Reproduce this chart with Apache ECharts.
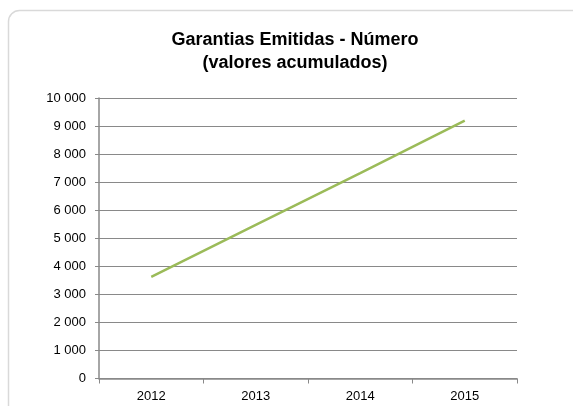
<!DOCTYPE html>
<html>
<head>
<meta charset="utf-8">
<script src="https://cdn.jsdelivr.net/npm/echarts@6/dist/echarts.min.js"></script>
<style>
  html, body { margin: 0; padding: 0; background: #fff; }
  #chart { width: 573px; height: 406px; }
</style>
</head>
<body>
<div id="chart"></div>
<script>
// Guarantees issued, cumulative count per year
const years = ['2012', '2013', '2014', '2015'];
const issuedCumulative = [3620, 5480, 7320, 9190];
const yTicks = { min: 0, max: 10000, interval: 1000 };

const FONT = "'Liberation Sans', Arial, Helvetica, sans-serif";
const GRID_GRAY = '#898989';

// thousands with a space separator, e.g. "10 000"
function spaced(v) {
  return String(v).replace(/\B(?=(\d{3})+(?!\d))/g, ' ');
}

const chart = echarts.init(document.getElementById('chart'), null, { renderer: 'canvas' });

chart.setOption({
  animation: false,
  backgroundColor: '#ffffff',
  graphic: [{
    type: 'rect',
    shape: { x: 8.5, y: 10.5, width: 580, height: 420, r: 11 },
    style: { fill: 'none', stroke: '#d9d9d9', lineWidth: 1.5 },
    silent: true,
    z: -1
  }],
  title: {
    text: 'Garantias Emitidas - Número\n(valores acumulados)',
    left: 290,
    top: 24,
    textAlign: 'center',
    textStyle: {
      fontFamily: FONT,
      fontSize: 18,
      fontWeight: 'bold',
      color: '#000',
      lineHeight: 23
    }
  },
  grid: { left: 99, right: 56, top: 98, bottom: 27.5 },
  xAxis: {
    type: 'category',
    data: years,
    boundaryGap: true,
    axisLine: { lineStyle: { color: GRID_GRAY, width: 1.5 } },
    axisTick: { show: true, length: 5, alignWithLabel: false, lineStyle: { color: GRID_GRAY, width: 1 } },
    axisLabel: { color: '#000', fontFamily: FONT, fontSize: 13, margin: 11 },
    splitLine: { show: false }
  },
  yAxis: {
    type: 'value',
    min: yTicks.min,
    max: yTicks.max,
    interval: yTicks.interval,
    axisLine: { show: true, lineStyle: { color: GRID_GRAY, width: 1.5 } },
    axisTick: { show: true, length: 4, lineStyle: { color: GRID_GRAY, width: 1 } },
    axisLabel: {
      color: '#000', fontFamily: FONT, fontSize: 13, margin: 13,
      formatter: spaced
    },
    splitLine: { show: true, lineStyle: { color: GRID_GRAY, width: 1 } }
  },
  series: [{
    type: 'line',
    data: issuedCumulative,
    showSymbol: false,
    symbol: 'none',
    lineStyle: { color: '#9bbb59', width: 2.5 },
    itemStyle: { color: '#9bbb59' }
  }]
});
</script>
</body>
</html>
